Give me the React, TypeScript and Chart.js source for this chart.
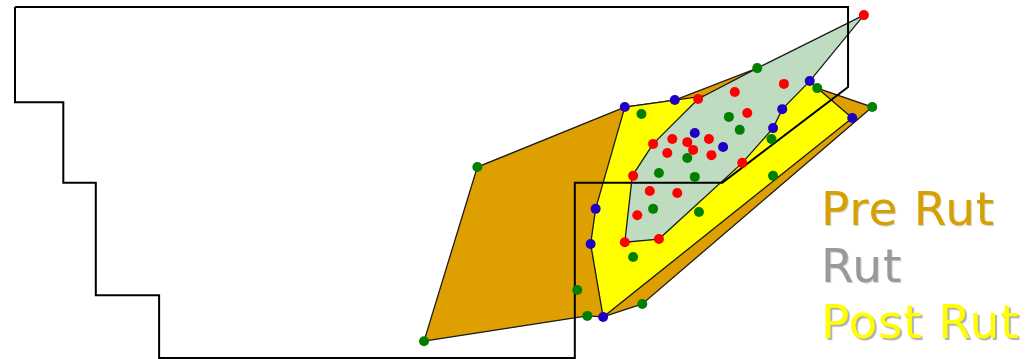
import React, { useEffect, useRef } from "react";
import { Chart, registerables } from "chart.js";

Chart.register(...registerables);

type P = { x: number; y: number };

// Region outline (black stepped polygon)
const outlineX = [0, 100, 100, 84.9, 67.2, 67.2, 17.3, 17.3, 9.7, 9.7, 5.8, 5.8, 0, 0];
const outlineY = [100, 100, 77.2, 49.9, 49.9, 0, 0, 17.9, 17.9, 49.9, 49.9, 72.9, 72.9, 100];

// Pre Rut hull
const preRutHullX = [49.1, 55.5, 73.2, 79.2, 89.1, 96.3, 102.9, 75.3, 70.6, 68.7, 49.1];
const preRutHullY = [4.8, 54.4, 71.5, 73.5, 82.6, 76.9, 71.5, 15.4, 11.7, 12.0, 4.8];

// Post Rut hull
const postRutHullX = [73.2, 79.2, 95.4, 96.3, 100.5, 70.6, 69.1, 69.7, 73.2];
const postRutHullY = [71.5, 73.5, 78.9, 76.9, 68.4, 11.7, 32.5, 42.5, 71.5];

// Rut hull
const rutHullX = [101.9, 95.4, 92.1, 91.0, 87.3, 77.3, 73.2, 74.1, 76.6, 82.0, 89.1, 101.9];
const rutHullY = [97.7, 78.9, 70.9, 65.5, 55.6, 33.9, 33.0, 51.9, 61.0, 73.8, 82.6, 97.7];

// Observations
const rutX = [101.9, 92.3, 86.4, 82.0, 87.9, 78.9, 80.7, 83.3, 76.6, 78.3, 81.4, 83.6, 87.3, 74.2, 76.2, 79.5, 74.7, 73.2, 77.3];
const rutY = [97.7, 78.1, 75.8, 73.8, 69.8, 62.4, 61.5, 62.4, 61.0, 58.4, 59.3, 57.8, 55.6, 51.9, 47.6, 47.0, 40.7, 33.0, 33.9];

const postRutX = [73.2, 79.2, 95.4, 100.5, 92.1, 91.0, 81.6, 85.0, 69.7, 69.1, 70.6];
const postRutY = [71.5, 73.5, 78.9, 68.4, 70.9, 65.5, 64.1, 60.1, 42.5, 32.5, 11.7];

const preRutX = [89.1, 96.3, 102.9, 75.2, 85.7, 87.0, 90.8, 80.7, 77.3, 81.6, 91.0, 76.6, 82.1, 74.2, 55.5, 49.1, 67.5, 68.7, 75.3];
const preRutY = [82.6, 76.9, 71.5, 69.5, 68.7, 65.0, 62.4, 57.0, 52.7, 51.6, 51.9, 42.5, 41.6, 28.8, 54.4, 4.8, 19.4, 12.0, 15.4];

const legendLabels = ["Pre Rut", "Rut", "Post Rut"];
const legendColors = ["#D6A000", "#999999", "#FFFF00"];

const zip = (xs: number[], ys: number[]): P[] => xs.map((x, i) => ({ x, y: ys[i] }));

export default function App() {
  const ref = useRef<HTMLCanvasElement | null>(null);

  useEffect(() => {
    if (!ref.current) return;
    const poly = (label: string, xs: number[], ys: number[], fillColor: string, order: number) => ({
      label,
      data: zip(xs, ys),
      showLine: true,
      fill: "shape" as any,
      backgroundColor: fillColor,
      borderColor: "#1a1a1a",
      borderWidth: 1.3,
      pointRadius: 0,
      tension: 0,
      order,
    });
    const pts = (label: string, xs: number[], ys: number[], color: string, order: number) => ({
      label,
      data: zip(xs, ys),
      showLine: false,
      fill: false,
      backgroundColor: color,
      borderColor: color,
      borderWidth: 0,
      pointRadius: 5,
      pointBorderWidth: 0,
      order,
    });
    const chart = new Chart(ref.current, {
      type: "line",
      data: {
        datasets: [
          pts("Rut points", rutX, rutY, "#FF0000", 0),
          pts("Post Rut points", postRutX, postRutY, "#1E00C4", 0),
          pts("Pre Rut points", preRutX, preRutY, "#008000", 0),
          {
            label: "Region",
            data: zip(outlineX, outlineY),
            showLine: true,
            fill: false,
            borderColor: "#000000",
            borderWidth: 2,
            pointRadius: 0,
            tension: 0,
            order: 1,
          } as any,
          poly("Rut", rutHullX, rutHullY, "#C0DCC0", 2),
          poly("Post Rut", postRutHullX, postRutHullY, "#FFFF00", 3),
          poly("Pre Rut", preRutHullX, preRutHullY, "#DDA000", 4),
        ] as any,
      },
      options: {
        animation: false,
        responsive: false,
        maintainAspectRatio: false,
        layout: { padding: 0, autoPadding: false } as any,
        clip: false as any,
        plugins: { legend: { display: false }, tooltip: { enabled: false } },
        events: [],
        scales: {
          x: { type: "linear", min: -1.8, max: 121.6, display: false },
          y: { type: "linear", min: -0.28, max: 102.0, display: false },
        },
      },
    });
    return () => chart.destroy();
  }, []);

  return (
    <div style={{ position: "fixed", left: 0, top: 0, width: 1028, height: 359, background: "#ffffff" }}>
      <canvas ref={ref} width={1028} height={359} style={{ position: "absolute", left: 0, top: 0 }} />
      {legendLabels.map((t, i) => (
        <div
          key={t}
          style={{
            position: "absolute",
            left: 821,
            top: 185 + i * 56.5,
            fontFamily: "'DejaVu Sans', Verdana, sans-serif",
            fontSize: 47,
            letterSpacing: 0.8,
            lineHeight: 1,
            color: legendColors[i],
            whiteSpace: "nowrap",
            textShadow: i === 2 ? "2px 2px 1px #b0b0b0" : "1px 1px 1px #d0d0d0",
          }}
        >
          {t}
        </div>
      ))}
    </div>
  );
}
